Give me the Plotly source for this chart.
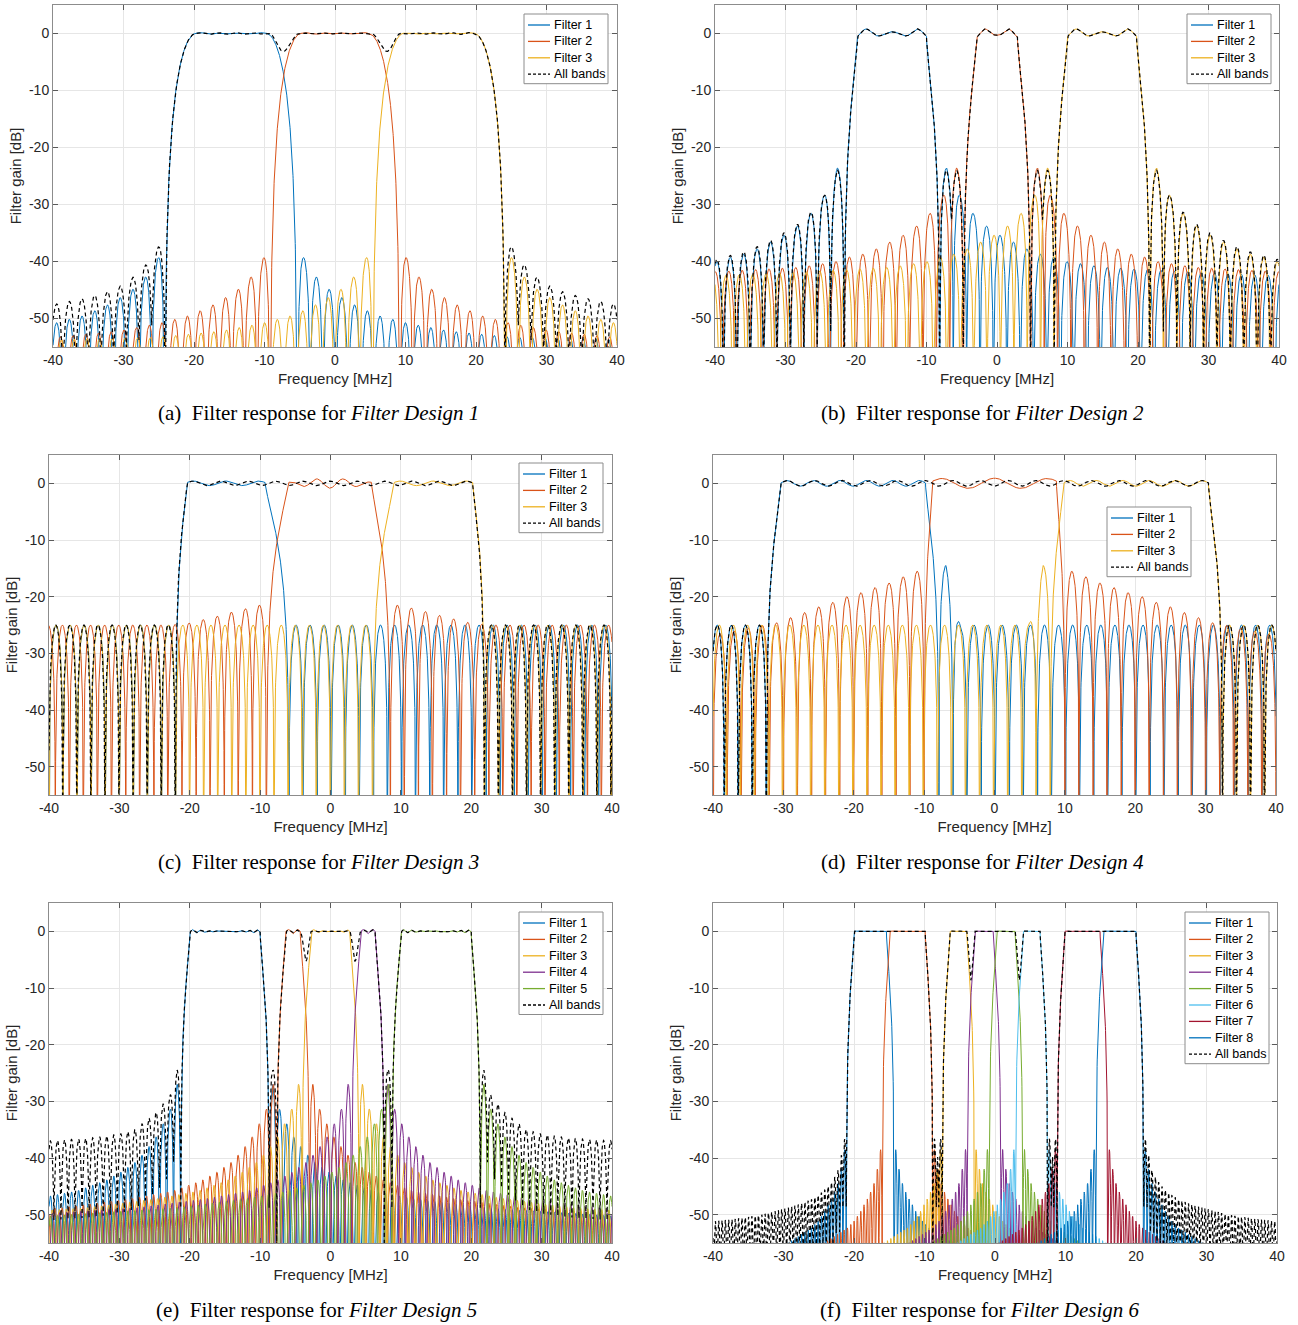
import numpy as np
import plotly.graph_objects as go

# ---------------- common data ----------------
FREQ_START, FREQ_STOP, FREQ_STEP = -40.0, 40.0, 0.02
X_TICKS = [-40, -30, -20, -10, 0, 10, 20, 30, 40]
X_TICK_TEXT = ["-40", "-30", "-20", "-10", "0", "10", "20", "30", "40"]
Y_TICKS = [-50, -40, -30, -20, -10, 0]
Y_TICK_TEXT = ["-50", "-40", "-30", "-20", "-10", "0"]
FILTER_NAMES = ["Filter 1", "Filter 2", "Filter 3", "Filter 4",
                "Filter 5", "Filter 6", "Filter 7", "Filter 8"]
ALL_NAME = "All bands"
CAPTION_LETTERS = ["(a)", "(b)", "(c)", "(d)", "(e)", "(f)"]
CAPTION_DESIGNS = ["Filter Design 1", "Filter Design 2", "Filter Design 3",
                   "Filter Design 4", "Filter Design 5", "Filter Design 6"]
X_TITLE = "Frequency [MHz]"
Y_TITLE = "Filter gain [dB]"

# ---------------- Design 1 ----------------
D1_LO = [-19.7, -4.75, 9.8]
D1_HI = [-9.8, 4.75, 19.7]
D1_T_LO = [4.5, 4.5, 4.5]
D1_T_HI = [4.5, 4.5, 4.5]
D1_SHAPE = [2.0, 2.2]
D1_LOBE = 1.8
D1_ENV_D = [5.0, 7.0, 9.0, 11.0, 13.0, 16.0, 20.0, 26.0, 35.0, 60.0]
D1_ENV_DB = [-38.6, -42.5, -44.9, -46.5, -47.9, -49.5, -50.8, -52.2, -53.3, -54.0]
D1_RIP_C = [0.08, 0.08, 0.08]
D1_RIP_E = [0.15, 0.15, 0.15]
D1_RIP_E0 = [0.6, 0.6, 0.6]
D1_RIP_P = 2.5
D1_ALL_LO = [-19.7]
D1_ALL_HI = [19.7]
D1_ALL_T = 4.5
D1_ALL_ENV_D = [5.0, 7.0, 9.0, 11.0, 13.0, 16.0, 20.0, 60.0]
D1_ALL_ENV_DB = [-36.8, -40.4, -42.8, -44.5, -45.5, -46.5, -47.5, -49.0]
D1_ALL_FILL = 0.25
D1_ALL_RIP = [0.08, 0.15, 2.5, 0.6]
D1_ALL_DIP_AT = [-7.3, 7.3]
D1_ALL_DIP_DB = [3.1, 3.1]
D1_ALL_DIP_W = [2.1, 2.1]

# ---------------- Design 2 (panel b) ----------------
D2_LO = [-19.8, -2.9, 10.0]
D2_HI = [-10.0, 2.9, 19.8]
D2_T_LO = [1.9, 1.9, 1.9]
D2_T_HI = [1.9, 1.9, 1.9]
D2_SHAPE = [0.6, 1.45]
D2_LOBE = 1.9
D2_ENV_D = [2.85, 4.75, 6.65, 8.55, 10.45, 12.35, 14.25, 16.1, 18.0, 19.9, 25.0, 40.0, 60.0]
D2_ENV_DB = [-23.6, -28.5, -31.6, -33.8, -35.4, -36.6, -37.8, -38.7, -39.2, -40.0, -41.0, -42.0, -43.0]
D2_RIP_C = [0.3, 0.3, 0.3]
D2_RIP_E = [0.8, 0.8, 0.8]
D2_RIP_E0 = [1.3, 1.3, 1.3]
D2_RIP_P = 3.6
D2_ALL_LO = [-19.8, -2.9, 10.0]
D2_ALL_HI = [-10.0, 2.9, 19.8]
D2_ALL_T = 1.9
D2_ALL_ENV_D = [2.85, 4.75, 6.65, 8.55, 10.45, 12.35, 14.25, 16.1, 18.0, 19.9, 25.0, 40.0, 60.0]
D2_ALL_ENV_DB = [-24.0, -28.5, -31.4, -33.5, -35.0, -36.3, -37.4, -38.3, -38.9, -39.6, -40.5, -41.5, -42.5]
D2_ALL_FILL = 0.05
D2_ALL_RIP = [0.3, 0.8, 3.6, 1.3]
D2_ALL_DIP_AT = []
D2_ALL_DIP_DB = []
D2_ALL_DIP_W = []

# ---------------- Design 3 (panel c) ----------------
D3_LO = [-20.4, -6.0, 9.0]
D3_HI = [-9.3, 5.8, 20.2]
D3_T_LO = [1.6, 3.1, 3.0]
D3_T_HI = [3.4, 2.7, 1.7]
D3_SHAPE = [0.7, 1.2]
D3_LOBE = 2.0
D3_ENV_EQ_D = [0.0, 100.0]
D3_ENV_EQ_DB = [-25.0, -25.0]
D3_ENV_MID_D = [4.3, 6.3, 8.3, 10.3, 12.3, 14.3, 17.0, 100.0]
D3_ENV_MID_DB = [-21.5, -22.2, -22.8, -23.5, -24.1, -24.7, -25.0, -25.0]
D3_ENV_LO_KEY = ["eq", "mid", "eq"]
D3_ENV_HI_KEY = ["eq", "mid", "eq"]
D3_RIP_C = [0.4, 0.85, 0.4]
D3_RIP_E = [0.4, 0.2, 0.4]
D3_RIP_E0 = [0.9, 0.2, 0.9]
D3_RIP_P = 3.9
D3_ALL_LO = [-20.4]
D3_ALL_HI = [20.2]
D3_ALL_T = 1.65
D3_ALL_ENV_D = [0.0, 100.0]
D3_ALL_ENV_DB = [-25.0, -25.0]
D3_ALL_FILL = 0.0
D3_ALL_RIP = [0.4, 0.4, 3.9, 0.9]
D3_ALL_DIP_AT = []
D3_ALL_DIP_DB = []
D3_ALL_DIP_W = []

# ---------------- Design 4 (panel d) ----------------
D4_LO = [-30.4, -8.8, 9.8]
D4_HI = [-9.8, 8.8, 30.4]
D4_T_LO = [2.0, 1.2, 1.9]
D4_T_HI = [1.9, 1.2, 2.0]
D4_SHAPE = [0.6, 1.2]
D4_LOBE = 2.0
D4_ENV_EQ_D = [0.0, 100.0]
D4_ENV_EQ_DB = [-25.0, -25.0]
D4_ENV_NEAR_D = [2.9, 4.9, 100.0]
D4_ENV_NEAR_DB = [-14.5, -25.0, -25.0]
D4_ENV_MID_D = [2.2, 4.2, 6.2, 8.2, 10.2, 12.2, 14.2, 16.2, 18.2, 20.2, 22.2, 26.0, 32.0, 100.0]
D4_ENV_MID_DB = [-15.5, -16.5, -17.6, -18.4, -19.3, -20.0, -21.0, -21.8, -22.8, -23.7, -24.6, -25.5, -27.0, -28.0]
D4_ENV_LO_KEY = ["eq", "mid", "near"]
D4_ENV_HI_KEY = ["near", "mid", "eq"]
D4_RIP_C = [0.5, 0.9, 0.5]
D4_RIP_E = [0.5, 0.85, 0.5]
D4_RIP_E0 = [0.9, 1.3, 0.9]
D4_RIP_P = [3.95, 7.5, 3.95]
D4_ALL_LO = [-30.4]
D4_ALL_HI = [30.4]
D4_ALL_T = 2.0
D4_ALL_ENV_D = [0.0, 100.0]
D4_ALL_ENV_DB = [-25.0, -25.0]
D4_ALL_FILL = 0.0
D4_ALL_RIP = [0.5, 0.5, 3.95, 0.9]
D4_ALL_DIP_AT = []
D4_ALL_DIP_DB = []
D4_ALL_DIP_W = []

# ---------------- Design 5 (panel e) ----------------
D5_LO = [-20.0, -6.35, -2.75, 4.3, 10.0]
D5_HI = [-10.0, -4.3, 2.75, 6.35, 20.0]
D5_T_LO = [1.3, 1.3, 1.3, 1.3, 1.3]
D5_T_HI = [1.3, 1.3, 1.3, 1.3, 1.3]
D5_SHAPE = [0.6, 1.2]
D5_LOBE = 1.0
D5_ENV_D = [1.8, 2.8, 3.8, 4.8, 5.8, 6.8, 7.8, 9.8, 12.0, 16.0, 22.0, 32.0, 60.0]
D5_ENV_DB = [-27.0, -31.5, -34.0, -36.3, -38.0, -39.5, -40.8, -42.5, -44.0, -45.8, -47.2, -48.8, -51.0]
D5_RIP_C = [0.05, 0.4, 0.05, 0.4, 0.05]
D5_RIP_E = [0.3, 0.3, 0.3, 0.3, 0.3]
D5_RIP_E0 = [0.4, 0.35, 0.35, 0.35, 0.4]
D5_RIP_P = 1.2
D5_ALL_LO = [-20.0, -6.35, 10.0]
D5_ALL_HI = [-10.0, 6.35, 20.0]
D5_ALL_T = 1.3
D5_ALL_ENV_D = [1.8, 2.8, 3.8, 4.8, 5.8, 7.8, 10.0, 14.0, 20.0, 60.0]
D5_ALL_ENV_DB = [-24.5, -29.0, -30.5, -32.0, -33.0, -35.0, -35.8, -36.5, -37.0, -37.5]
D5_ALL_FILL = 0.2
D5_ALL_RIP = [0.05, 0.3, 1.2, 0.4]
D5_ALL_DIP_AT = [-3.5, 3.5]
D5_ALL_DIP_DB = [5.4, 5.4]
D5_ALL_DIP_W = [0.75, 0.75]

# ---------------- Design 6 (panel f) ----------------
D6_LO = [-20.0, -14.9, -6.4, -2.85, 0.25, 4.0, 9.9, 15.4]
D6_HI = [-15.4, -9.9, -4.0, -0.25, 2.85, 6.4, 14.9, 20.0]
D6_T_LO = [1.1, 1.1, 1.1, 1.1, 1.1, 1.1, 1.1, 1.1]
D6_T_HI = [1.1, 1.1, 1.1, 1.1, 1.1, 1.1, 1.1, 1.1]
D6_SHAPE = [0.6, 1.2]
D6_LOBE = 0.47
D6_ENV_D = [1.33, 1.8, 2.27, 2.74, 3.2, 3.7, 4.2, 5.0, 6.0, 7.5, 10.0, 15.0, 30.0, 60.0]
D6_ENV_DB = [-38.5, -42.0, -44.5, -46.0, -47.2, -48.3, -49.5, -51.0, -52.3, -53.5, -55.5, -58.0, -62.0, -65.0]
D6_RIP_C = [0.03] * 8
D6_RIP_E = [0.05] * 8
D6_RIP_E0 = [0.3] * 8
D6_RIP_P = 1.0
D6_ALL_LO = [-20.0, -6.4, 9.9]
D6_ALL_HI = [-9.9, 6.4, 20.0]
D6_ALL_T = 1.1
D6_ALL_ENV_D = [1.3, 2.2, 3.0, 4.0, 5.0, 6.0, 8.0, 10.0, 13.0, 17.0, 20.0, 60.0]
D6_ALL_ENV_DB = [-36.5, -42.0, -44.0, -45.5, -46.5, -47.3, -48.3, -49.0, -50.0, -50.8, -51.2, -52.0]
D6_ALL_FILL = 0.25
D6_ALL_RIP = [0.03, 0.05, 1.0, 0.3]
D6_ALL_DIP_AT = [-3.43, 3.43]
D6_ALL_DIP_DB = [8.6, 8.6]
D6_ALL_DIP_W = [0.6, 0.6]

COLORS = ["#0072BD", "#D95319", "#EDB120", "#7E2F8E",
          "#77AC30", "#4DBEEE", "#A2142F", "#0072BD"]


def _design(lo, hi, tlo, thi, shape, lobe, envs, klo, khi, rc, re, re0, rp,
            alo, ahi, at, aenv, afill, arip, dat, ddb, dw):
    n = len(lo)
    rp = rp if isinstance(rp, list) else [rp] * n
    return dict(lo=lo, hi=hi, tlo=tlo, thi=thi, r=shape[0], q=shape[1],
                lobe=lobe, envs=envs, klo=klo, khi=khi, rc=rc, re=re,
                re0=re0, rp=rp, alo=alo, ahi=ahi, at=at, aenv=aenv,
                afill=afill, arip=arip, dat=dat, ddb=ddb, dw=dw)


DESIGNS = [
    _design(D1_LO, D1_HI, D1_T_LO, D1_T_HI, D1_SHAPE, D1_LOBE,
            {"s": (D1_ENV_D, D1_ENV_DB)}, ["s"] * 3, ["s"] * 3,
            D1_RIP_C, D1_RIP_E, D1_RIP_E0, D1_RIP_P,
            D1_ALL_LO, D1_ALL_HI, D1_ALL_T, (D1_ALL_ENV_D, D1_ALL_ENV_DB),
            D1_ALL_FILL, D1_ALL_RIP, D1_ALL_DIP_AT, D1_ALL_DIP_DB, D1_ALL_DIP_W),
    _design(D2_LO, D2_HI, D2_T_LO, D2_T_HI, D2_SHAPE, D2_LOBE,
            {"s": (D2_ENV_D, D2_ENV_DB)}, ["s"] * 3, ["s"] * 3,
            D2_RIP_C, D2_RIP_E, D2_RIP_E0, D2_RIP_P,
            D2_ALL_LO, D2_ALL_HI, D2_ALL_T, (D2_ALL_ENV_D, D2_ALL_ENV_DB),
            D2_ALL_FILL, D2_ALL_RIP, D2_ALL_DIP_AT, D2_ALL_DIP_DB, D2_ALL_DIP_W),
    _design(D3_LO, D3_HI, D3_T_LO, D3_T_HI, D3_SHAPE, D3_LOBE,
            {"eq": (D3_ENV_EQ_D, D3_ENV_EQ_DB), "mid": (D3_ENV_MID_D, D3_ENV_MID_DB)},
            D3_ENV_LO_KEY, D3_ENV_HI_KEY,
            D3_RIP_C, D3_RIP_E, D3_RIP_E0, D3_RIP_P,
            D3_ALL_LO, D3_ALL_HI, D3_ALL_T, (D3_ALL_ENV_D, D3_ALL_ENV_DB),
            D3_ALL_FILL, D3_ALL_RIP, D3_ALL_DIP_AT, D3_ALL_DIP_DB, D3_ALL_DIP_W),
    _design(D4_LO, D4_HI, D4_T_LO, D4_T_HI, D4_SHAPE, D4_LOBE,
            {"eq": (D4_ENV_EQ_D, D4_ENV_EQ_DB), "near": (D4_ENV_NEAR_D, D4_ENV_NEAR_DB),
             "mid": (D4_ENV_MID_D, D4_ENV_MID_DB)},
            D4_ENV_LO_KEY, D4_ENV_HI_KEY,
            D4_RIP_C, D4_RIP_E, D4_RIP_E0, D4_RIP_P,
            D4_ALL_LO, D4_ALL_HI, D4_ALL_T, (D4_ALL_ENV_D, D4_ALL_ENV_DB),
            D4_ALL_FILL, D4_ALL_RIP, D4_ALL_DIP_AT, D4_ALL_DIP_DB, D4_ALL_DIP_W),
    _design(D5_LO, D5_HI, D5_T_LO, D5_T_HI, D5_SHAPE, D5_LOBE,
            {"s": (D5_ENV_D, D5_ENV_DB)}, ["s"] * 5, ["s"] * 5,
            D5_RIP_C, D5_RIP_E, D5_RIP_E0, D5_RIP_P,
            D5_ALL_LO, D5_ALL_HI, D5_ALL_T, (D5_ALL_ENV_D, D5_ALL_ENV_DB),
            D5_ALL_FILL, D5_ALL_RIP, D5_ALL_DIP_AT, D5_ALL_DIP_DB, D5_ALL_DIP_W),
    _design(D6_LO, D6_HI, D6_T_LO, D6_T_HI, D6_SHAPE, D6_LOBE,
            {"s": (D6_ENV_D, D6_ENV_DB)}, ["s"] * 8, ["s"] * 8,
            D6_RIP_C, D6_RIP_E, D6_RIP_E0, D6_RIP_P,
            D6_ALL_LO, D6_ALL_HI, D6_ALL_T, (D6_ALL_ENV_D, D6_ALL_ENV_DB),
            D6_ALL_FILL, D6_ALL_RIP, D6_ALL_DIP_AT, D6_ALL_DIP_DB, D6_ALL_DIP_W),
]

FREQ = np.round(np.arange(FREQ_START, FREQ_STOP + FREQ_STEP / 2, FREQ_STEP), 3)


def ripple(f, lo, hi, ac, ae, period, e0):
    fc = np.clip(f, lo, hi)
    span = max((hi - lo) - 2 * e0, 1e-3)
    n = max(1, int(round(span / period)))
    pe = span / n
    u = np.clip(np.abs(fc - (lo + hi) / 2) / (span / 2), 0, 1)
    amp = ac + (ae - ac) * u ** 2
    return amp * np.cos(2 * np.pi * (fc - (lo + e0)) / pe)


def transition(d, T, r, q):
    out = np.zeros_like(d)
    out[d <= 0] = 1.0
    m = (d > 0) & (d < T)
    out[m] = (1 - (d[m] / T) ** r) ** q
    return out


def lobes(d, T, env, lobe, fill):
    out = np.zeros_like(d)
    sb = d >= T
    lev = 10 ** (np.interp(d[sb], env[0], env[1]) / 20)
    out[sb] = lev * (fill + (1 - fill) * np.abs(np.sin(np.pi * (d[sb] - T) / lobe)))
    return out


def band_db(f, lo, hi, tlo, thi, r, q, lobe, env_lo, env_hi, rip):
    dl, dh = lo - f, f - hi
    main = np.minimum(transition(dl, tlo, r, q), transition(dh, thi, r, q))
    side = lobes(dl, tlo, env_lo, lobe, 0.0) + lobes(dh, thi, env_hi, lobe, 0.0)
    amp = np.maximum(main + side, 1e-5)
    return 20 * np.log10(amp) + ripple(f, lo, hi, *rip) * main


def all_bands_db(des):
    f = FREQ
    T = des["at"]
    mains, rips, dists = [], [], []
    for lo, hi in zip(des["alo"], des["ahi"]):
        dl, dh = lo - f, f - hi
        m = np.minimum(transition(dl, T, des["r"], des["q"]),
                       transition(dh, T, des["r"], des["q"]))
        mains.append(m)
        rips.append(ripple(f, lo, hi, *des["arip"]) * m)
        dists.append(np.maximum(dl, dh))
    mains = np.vstack(mains)
    idx = np.argmax(mains, axis=0)
    main = mains[idx, np.arange(f.size)]
    rip = np.vstack(rips)[idx, np.arange(f.size)]
    d_near = np.min(np.vstack(dists), axis=0)
    side = lobes(d_near, T, des["aenv"], des["lobe"], des["afill"])
    y = 20 * np.log10(np.maximum(main + side, 1e-5)) + rip
    for c, depth, w in zip(des["dat"], des["ddb"], des["dw"]):
        m = np.abs(f - c) < w
        y[m] -= depth * np.cos(np.pi / 2 * (f[m] - c) / w) ** 2
    return y


def filter_curves(des):
    out = []
    for i in range(len(des["lo"])):
        out.append(band_db(FREQ, des["lo"][i], des["hi"][i], des["tlo"][i], des["thi"][i],
                           des["r"], des["q"], des["lobe"],
                           des["envs"][des["klo"][i]], des["envs"][des["khi"][i]],
                           (des["rc"][i], des["re"][i], des["rp"][i], des["re0"][i])))
    return out, all_bands_db(des)


# ---------------- layout (pixel boxes) ----------------
W, H = 1298, 1325
BOXES = [(53, 617, 5, 347), (715, 1279, 5, 347),
         (49, 612, 455, 795), (713, 1276, 455, 795),
         (49, 612, 903, 1243), (713, 1277, 903, 1243)]
LEGEND_BOX = [(524, 14), (1187, 14), (519, 463), (1107, 507), (519, 912), (1185, 912)]
LEGEND_W = 84
LEGEND_ROW = 16.4
CAPTION_POS = [(318, 413), (983, 413), (318, 862), (983, 862), (316, 1310), (980, 1310)]
SANS = "Liberation Sans, Arial, sans-serif"
SERIF = "Liberation Serif, Times New Roman, serif"
TXT = "#262626"
BOXC = "#8c8c8c"


def px(x):
    return x / W


def py(y):
    return 1 - y / H


fig = go.Figure()
annotations, shapes = [], []
layout = dict(width=W, height=H, margin=dict(l=0, r=0, t=0, b=0, autoexpand=False),
              paper_bgcolor="white", plot_bgcolor="white", showlegend=False,
              font=dict(family=SANS, color=TXT))

for k, des in enumerate(DESIGNS):
    sfx = "" if k == 0 else str(k + 1)
    curves, y_all = filter_curves(des)
    names, styles = [], []
    for i, y in enumerate(curves):
        fig.add_trace(go.Scatter(
            x=FREQ, y=np.round(np.maximum(y, -75), 2), mode="lines",
            name=FILTER_NAMES[i], line=dict(color=COLORS[i], width=1),
            xaxis="x" + sfx, yaxis="y" + sfx, hoverinfo="skip"))
        names.append(FILTER_NAMES[i])
        styles.append((COLORS[i], "solid"))
    fig.add_trace(go.Scatter(
        x=FREQ, y=np.round(np.maximum(y_all, -75), 2), mode="lines",
        name=ALL_NAME, line=dict(color="black", width=1.2, dash="4px,3px"),
        xaxis="x" + sfx, yaxis="y" + sfx, hoverinfo="skip"))
    names.append(ALL_NAME)
    styles.append(("black", "3px,2px"))

    x0, x1, y0, y1 = BOXES[k]
    common = dict(showline=True, linecolor=BOXC, linewidth=1, mirror="ticks",
                  ticks="inside", ticklen=5, tickwidth=1, tickcolor="#5a5a5a",
                  showgrid=True, gridcolor="#e6e6e6", gridwidth=1, zeroline=False,
                  automargin=False,
                  tickfont=dict(family=SANS, size=14, color=TXT), fixedrange=True)
    layout["xaxis" + sfx] = dict(
        common, domain=[px(x0), px(x1)], anchor="y" + sfx, range=[-40, 40],
        tickvals=X_TICKS, ticktext=X_TICK_TEXT,
        title=dict(text=X_TITLE, font=dict(family=SANS, size=15, color=TXT), standoff=6))
    layout["yaxis" + sfx] = dict(
        common, domain=[py(y1), py(y0)], anchor="x" + sfx, range=[-55, 5],
        tickvals=Y_TICKS, ticktext=Y_TICK_TEXT,
        title=dict(text=Y_TITLE, font=dict(family=SANS, size=15, color=TXT), standoff=3))

    # legend box (drawn as shapes + text)
    lx, ly = LEGEND_BOX[k]
    n = len(names)
    lh = 20.5 + (n - 1) * LEGEND_ROW
    shapes.append(dict(type="rect", xref="paper", yref="paper", layer="above",
                       x0=px(lx), x1=px(lx + LEGEND_W), y0=py(ly + lh), y1=py(ly),
                       fillcolor="white", line=dict(color=BOXC, width=1)))
    for j, (nm, (col, dash)) in enumerate(zip(names, styles)):
        yy = ly + 11 + j * LEGEND_ROW
        shapes.append(dict(type="line", xref="paper", yref="paper", layer="above",
                           x0=px(lx + 4), x1=px(lx + 26), y0=py(yy), y1=py(yy),
                           line=dict(color=col, width=1.3, dash=dash)))
        annotations.append(dict(x=px(lx + 28), y=py(yy), xref="paper", yref="paper",
                                showarrow=False, xanchor="left", yanchor="middle",
                                text=nm, font=dict(family=SANS, size=12.5, color="#000000")))

    cx, cy = CAPTION_POS[k]
    annotations.append(dict(
        x=px(cx), y=py(cy), xref="paper", yref="paper", showarrow=False,
        xanchor="center", yanchor="middle",
        text=CAPTION_LETTERS[k] + "\u00a0 Filter response for <i>" + CAPTION_DESIGNS[k] + "</i>",
        font=dict(family=SERIF, size=21, color="#000000")))

layout["annotations"] = annotations
layout["shapes"] = shapes
fig.update_layout(**layout)
fig.write_html("out.html", config={"displayModeBar": False},
               post_script="document.body.style.margin='0';document.body.style.overflow='hidden';")
